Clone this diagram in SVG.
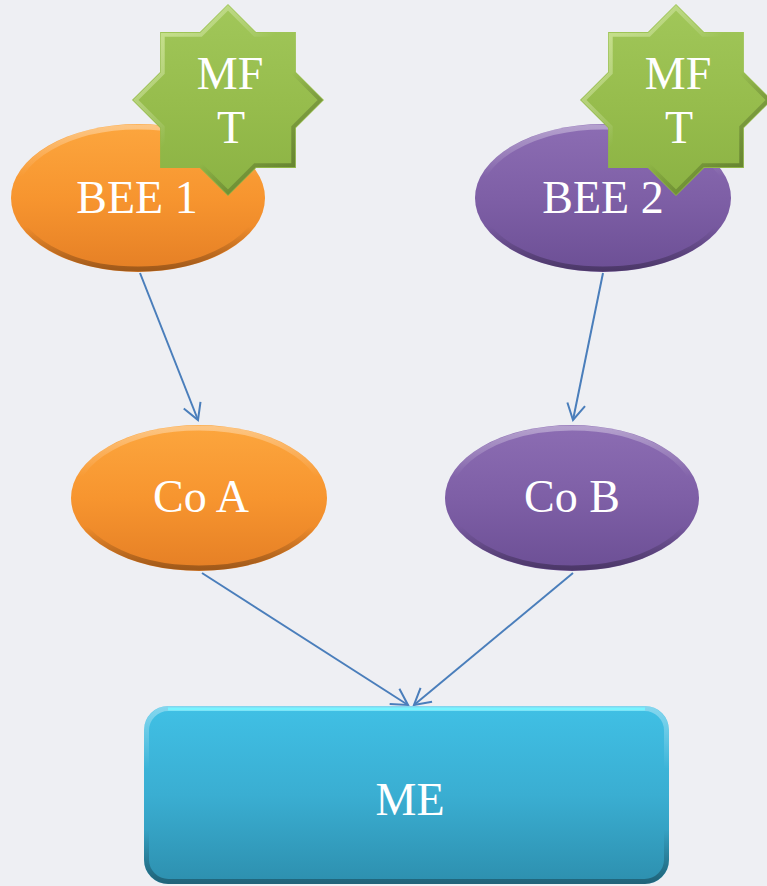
<svg xmlns="http://www.w3.org/2000/svg" width="767" height="886" viewBox="0 0 767 886">
  <style>
    .lbl { font-family: "Liberation Serif", "Times New Roman", serif; font-size: 46px; fill: #ffffff; text-anchor: middle; }
    .edge { fill: none; stroke: #4a7ebb; stroke-width: 2; marker-end: url(#arrow); }
    .bevel { fill: none; stroke: url(#bevelStroke); stroke-width: 5; }
  </style>
  <defs>
    <linearGradient id="orangeFill" x1="0" y1="0" x2="0" y2="1">
      <stop offset="0" stop-color="#fca63e"/>
      <stop offset="0.5" stop-color="#f7952f"/>
      <stop offset="1" stop-color="#e57f25"/>
    </linearGradient>
    <linearGradient id="purpleFill" x1="0" y1="0" x2="0" y2="1">
      <stop offset="0" stop-color="#8c6db3"/>
      <stop offset="0.5" stop-color="#7e5fa6"/>
      <stop offset="1" stop-color="#6c4f95"/>
    </linearGradient>
    <linearGradient id="greenFill" x1="0" y1="0" x2="0" y2="1">
      <stop offset="0" stop-color="#a1c75a"/>
      <stop offset="0.5" stop-color="#97bd4d"/>
      <stop offset="1" stop-color="#8bb243"/>
    </linearGradient>
    <linearGradient id="cyanFill" x1="0" y1="0" x2="0" y2="1">
      <stop offset="0" stop-color="#40c0e5"/>
      <stop offset="0.5" stop-color="#3aaed2"/>
      <stop offset="1" stop-color="#2d8fae"/>
    </linearGradient>
    <linearGradient id="bevelStroke" x1="0" y1="0" x2="0" y2="1">
      <stop offset="0" stop-color="#ffffff" stop-opacity="0.35"/>
      <stop offset="0.35" stop-color="#ffffff" stop-opacity="0"/>
      <stop offset="0.7" stop-color="#000000" stop-opacity="0"/>
      <stop offset="1" stop-color="#000000" stop-opacity="0.3"/>
    </linearGradient>
    <linearGradient id="starBevel" x1="0" y1="0" x2="1" y2="1">
      <stop offset="0" stop-color="#d8f090" stop-opacity="0.8"/>
      <stop offset="0.45" stop-color="#ffffff" stop-opacity="0"/>
      <stop offset="0.6" stop-color="#000000" stop-opacity="0"/>
      <stop offset="1" stop-color="#3f5a18" stop-opacity="0.6"/>
    </linearGradient>
    <!-- eight-point star, centred on the origin -->
    <polygon id="star8" points="0,-96 28.1,-67.9 67.9,-67.9 67.9,-28.1 96,0 67.9,28.1 67.9,67.9 28.1,67.9 0,96 -28.1,67.9 -67.9,67.9 -67.9,28.1 -96,0 -67.9,-28.1 -67.9,-67.9 -28.1,-67.9"/>
    <marker id="arrow" markerUnits="userSpaceOnUse" markerWidth="24" markerHeight="24" viewBox="-20 -12 24 24" refX="0" refY="0" orient="auto">
      <path d="M-16,-9 L0,0 L-16,9" fill="none" stroke="#4a7ebb" stroke-width="2"/>
    </marker>
  </defs>

  <rect width="767" height="886" fill="#eeeff3"/>

  <!-- connectors -->
  <g id="connectors">
    <line class="edge" x1="140" y1="273" x2="198" y2="420"/>
    <line class="edge" x1="603" y1="273" x2="573" y2="420"/>
    <line class="edge" x1="202" y1="573" x2="408" y2="705"/>
    <line class="edge" x1="573" y1="573" x2="414" y2="705"/>
  </g>

  <g id="bee1">
    <ellipse cx="138" cy="198" rx="127" ry="74" fill="url(#orangeFill)"/>
    <ellipse class="bevel" cx="138" cy="198" rx="124" ry="71"/>
    <text class="lbl" x="137" y="213">BEE 1</text>
  </g>

  <g id="bee2">
    <ellipse cx="603" cy="198" rx="128" ry="74" fill="url(#purpleFill)"/>
    <ellipse class="bevel" cx="603" cy="198" rx="125" ry="71"/>
    <text class="lbl" x="603" y="213">BEE 2</text>
  </g>

  <g id="mft1">
    <use href="#star8" x="228" y="100" fill="url(#greenFill)"/>
    <use href="#star8" x="228" y="100" fill="none" stroke="url(#starBevel)" stroke-width="4" transform="translate(228 100) scale(0.96) translate(-228 -100)"/>
    <text class="lbl" x="230" y="89">MF</text>
    <text class="lbl" x="231" y="143">T</text>
  </g>

  <g id="mft2">
    <use href="#star8" x="676" y="100" fill="url(#greenFill)"/>
    <use href="#star8" x="676" y="100" fill="none" stroke="url(#starBevel)" stroke-width="4" transform="translate(676 100) scale(0.96) translate(-676 -100)"/>
    <text class="lbl" x="678" y="89">MF</text>
    <text class="lbl" x="679" y="143">T</text>
  </g>

  <g id="coA">
    <ellipse cx="199" cy="498" rx="128" ry="73" fill="url(#orangeFill)"/>
    <ellipse class="bevel" cx="199" cy="498" rx="125" ry="70"/>
    <text class="lbl" x="201" y="512">Co A</text>
  </g>

  <g id="coB">
    <ellipse cx="572" cy="498" rx="127" ry="73" fill="url(#purpleFill)"/>
    <ellipse class="bevel" cx="572" cy="498" rx="124" ry="70"/>
    <text class="lbl" x="572" y="512">Co B</text>
  </g>

  <g id="me">
    <rect x="144" y="706" width="525" height="178" rx="24" fill="url(#cyanFill)"/>
    <rect x="146.5" y="708.5" width="520" height="173" rx="22" fill="none" stroke="url(#bevelStroke)" stroke-width="5"/>
    <line x1="168" y1="709" x2="645" y2="709" stroke="#78f4ff" stroke-width="3"/>
    <text class="lbl" x="410" y="815">ME</text>
  </g>
</svg>
